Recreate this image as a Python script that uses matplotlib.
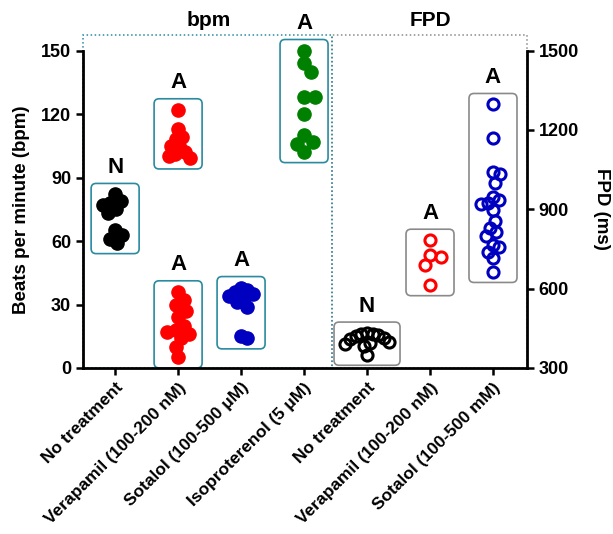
import numpy as np
import matplotlib.pyplot as plt
from matplotlib.patches import FancyBboxPatch, Rectangle

plt.rcParams['font.family'] = ['Liberation Sans', 'DejaVu Sans']
plt.rcParams['font.weight'] = 'bold'

# x categories (bpm groups on the left axis, FPD groups on the right axis)
categories = ['No treatment', 'Verapamil (100-200 nM)', 'Sotalol (100-500 \u03bcM)',
              'Isoproterenol (5 \u03bcM)', 'No treatment', 'Verapamil (100-200 nM)',
              'Sotalol (100-500 mM)']

# beats per minute
bpm_none = [82, 79, 78, 77, 75, 73, 65, 63, 61, 59]
bpm_verap_high = [122, 113, 109, 108, 105, 104, 102, 101, 100, 99]
bpm_verap_low = [36, 32, 30, 27, 24, 20, 18, 17, 16, 14, 10, 5]
bpm_sotalol = [38, 37, 36, 35, 34, 33, 31, 29, 15, 14]
bpm_iso = [150, 144, 140, 128, 128, 120, 110, 107, 106, 102]

# field potential duration (ms)
fpd_none = [432, 430, 428, 425, 420, 415, 410, 400, 395, 392, 385, 350]
fpd_verap = [783, 726, 718, 689, 613]
fpd_sotalol = [1296, 1171, 1040, 1035, 1000, 947, 934, 924, 919, 896, 856,
               831, 814, 798, 764, 758, 739, 714, 663]

letters = ['N', 'A', 'A', 'A', 'A', 'N', 'A', 'A']

teal = '#2a8a9f'
gray = '#8a8a8a'

fig = plt.figure(figsize=(6.13, 5.34), dpi=100)
ax = fig.add_axes([83 / 613, 1 - 368 / 534, 444 / 613, 317.5 / 534])
ax2 = ax.twinx()
ax.set_xlim(-0.51, 6.54)
ax.set_ylim(0, 150)
ax2.set_ylim(300, 1500)

# (position, values, axis, colour, filled, letter, box colour, max spread px)
groups = [
    (0, bpm_none, ax, 'black', True, letters[0], teal, 12),
    (1, bpm_verap_high, ax, '#ff0000', True, letters[1], teal, 12),
    (1, bpm_verap_low, ax, '#ff0000', True, letters[2], teal, 11),
    (2, bpm_sotalol, ax, '#0000c0', True, letters[3], teal, 12),
    (3, bpm_iso, ax, '#008000', True, letters[4], teal, 12),
    (4, fpd_none, ax2, 'black', False, letters[5], gray, 22),
    (5, fpd_verap, ax2, '#ff0000', False, letters[6], gray, 12),
    (6, fpd_sotalol, ax2, '#0000c0', False, letters[7], gray, 12),
]


def swarm(ypix, d):
    # simple beeswarm in pixel space
    order = np.argsort(-np.asarray(ypix))
    placed = []
    xs = np.zeros(len(ypix))
    for i in order:
        y = ypix[i]
        cands = [0.0]
        for px, py in placed:
            dy = y - py
            if abs(dy) < d:
                dx = np.sqrt(d * d - dy * dy)
                cands += [px + dx, px - dx]
        cands.sort(key=abs)
        for c in cands:
            if all((c - px) ** 2 + (y - py) ** 2 >= d * d - 1e-6 for px, py in placed):
                xs[i] = c
                break
        placed.append((xs[i], y))
    return xs


def scale(a):
    t = a.transData
    p0 = t.transform((0, 0))
    p1 = t.transform((1, 1))
    return p1[0] - p0[0], p1[1] - p0[1]


for pos, vals, a, col, filled, letter, bcol, cap in groups:
    sx, sy = scale(a)
    v = np.asarray(vals, dtype=float)
    ypix = v * sy
    if filled:
        r, d = 6.5, 11
    else:
        r, d = 6.0, 11
    xo = swarm(ypix, d)
    m = np.max(np.abs(xo))
    if m > cap:
        xo = xo * cap / m
    xs = pos + xo / sx
    if filled:
        a.plot(xs, v, 'o', ms=9.5, color=col, mec=col, zorder=4, clip_on=False)
    else:
        a.plot(xs, v, 'o', ms=8, mfc='none', mec=col, mew=2.2, zorder=4, clip_on=False)
    half = max(24.0, np.max(np.abs(xo)) + r + 5) / sx
    y0 = v.min() - 10.5 / sy
    y1 = v.max() + 11 / sy
    box = FancyBboxPatch((pos - half, y0), 2 * half, y1 - y0,
                         boxstyle='round,pad=0,rounding_size=%f' % (5 / sx),
                         mutation_aspect=sx / sy, fc='none', ec=bcol, lw=1.2,
                         zorder=2, clip_on=False)
    a.add_patch(box)
    a.annotate(letter, (pos, y1), xytext=(0, 4), textcoords='offset points',
               ha='center', va='bottom', fontsize=16, fontweight='bold',
               annotation_clip=False)

# dotted frames around the two panels
ax.add_patch(Rectangle((3.44, 0), 6.54 - 3.44, 157.5, fill=False, ls=':', ec=gray,
                       lw=1.1, clip_on=False, zorder=1))
ax.add_patch(Rectangle((-0.51, 0), 3.44 + 0.51, 157.5, fill=False, ls=':', ec=teal,
                       lw=1.1, clip_on=False, zorder=1))
ax.text(1.48, 164, 'bpm', ha='center', va='center', fontsize=15, fontweight='bold')
ax.text(5.0, 164, 'FPD', ha='center', va='center', fontsize=15, fontweight='bold')

for s in ['top', 'right']:
    ax.spines[s].set_visible(False)
for s in ['top', 'left', 'bottom']:
    ax2.spines[s].set_visible(False)
for s in ['left', 'bottom']:
    ax.spines[s].set_linewidth(2)
ax2.spines['right'].set_linewidth(2)

ax.set_yticks([0, 30, 60, 90, 120, 150])
ax2.set_yticks([300, 600, 900, 1200, 1500])
ax.set_xticks(range(len(categories)))
ax.set_xticklabels(categories, rotation=45, ha='right', rotation_mode='anchor',
                   fontsize=12.5, fontweight='bold')
ax.tick_params(axis='both', direction='out', length=5, width=1.8, labelsize=13)
ax2.tick_params(axis='y', direction='out', length=5, width=1.8, labelsize=13)
for lab in ax.get_xticklabels():
    lab.set_fontsize(12.5)
for lab in ax.get_yticklabels() + ax2.get_yticklabels():
    lab.set_fontweight('bold')

ax.set_ylabel('Beats per minute (bpm)', fontsize=13.5, fontweight='bold', labelpad=8)
ax2.set_ylabel('FPD (ms)', fontsize=13.5, fontweight='bold', rotation=270, labelpad=22)

fig.savefig('out.png', dpi=100)
